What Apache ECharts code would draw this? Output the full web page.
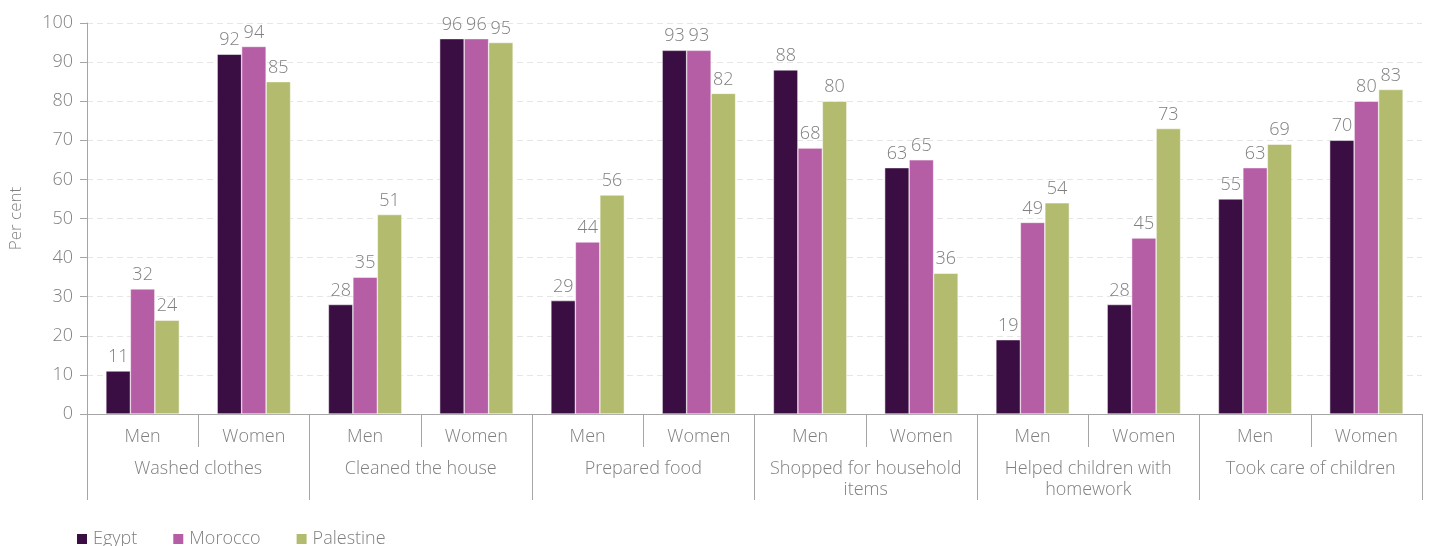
<!DOCTYPE html>
<html>
<head>
<meta charset="utf-8">
<script src="https://cdn.jsdelivr.net/npm/echarts@6/dist/echarts.min.js"></script>
<style>html,body{margin:0;padding:0;background:#fff}#c{width:1429px;height:546px}</style>
</head>
<body>
<div id="c"></div>
<script>
const groups = ['Washed clothes', 'Cleaned the house', 'Prepared food', 'Shopped for household\nitems', 'Helped children with\nhomework', 'Took care of children'];
const categories = ['Men','Women','Men','Women','Men','Women','Men','Women','Men','Women','Men','Women'];
const egypt     = [11, 92, 28, 96, 29, 93, 88, 63, 19, 28, 55, 70];
const morocco   = [32, 94, 35, 96, 44, 93, 68, 65, 49, 45, 63, 80];
const palestine = [24, 85, 51, 95, 56, 82, 80, 36, 54, 73, 69, 83];
const seriesNames = ['Egypt', 'Morocco', 'Palestine'];
const colors = ['#3a0e42', '#b65ea5', '#b3bb6e'];
const yTicks = {min: 0, max: 100, interval: 10};

const FONT = '"Open Sans"';
const FW = 300;
const FS = 18;
const GRAY = '#7f7f7f';
const chart = echarts.init(document.getElementById('c'));
const mk = (name, data, color) => ({
  name, type: 'bar', data, barGap: '0%', barCategoryGap: '34%',
  itemStyle: {color, borderColor: '#fff', borderWidth: 0.5},
  label: {show: true, position: 'top', distance: 5, color: GRAY, fontSize: FS, fontWeight: FW, fontFamily: FONT}
});
chart.setOption({
  animation: false,
  textStyle: {fontFamily: FONT, fontWeight: FW},
  grid: {left: 85, right: 7, top: 23, bottom: 132, containLabel: false},
  legend: {
    data: seriesNames, left: 70, top: 525, icon: 'rect', itemWidth: 12, itemHeight: 12,
    itemGap: 34, textStyle: {color: GRAY, fontSize: FS, fontWeight: FW, fontFamily: FONT}
  },
  xAxis: [
    {
      type: 'category', data: categories, position: 'bottom',
      axisLine: {lineStyle: {color: '#a6a6a6'}},
      axisTick: {show: true, interval: 0, length: 33, lineStyle: {color: '#a6a6a6'}},
      axisLabel: {interval: 0, margin: 14, color: GRAY, fontSize: FS, fontWeight: FW, fontFamily: FONT}
    },
    {
      type: 'category', data: groups, position: 'bottom',
      axisLine: {show: false},
      axisTick: {show: true, interval: 0, length: 86, lineStyle: {color: '#a6a6a6'}},
      axisLabel: {interval: 0, margin: 44, color: GRAY, fontSize: FS, lineHeight: 21, fontWeight: FW, fontFamily: FONT}
    }
  ],
  yAxis: {
    type: 'value', min: yTicks.min, max: yTicks.max, interval: yTicks.interval,
    name: 'Per cent', nameLocation: 'middle', nameGap: 62,
    nameTextStyle: {color: GRAY, fontSize: 17, fontWeight: FW, fontFamily: FONT},
    axisLine: {show: true, lineStyle: {color: '#a6a6a6'}},
    axisTick: {show: true, length: 7, lineStyle: {color: '#a6a6a6'}},
    axisLabel: {color: GRAY, fontSize: FS, margin: 14, fontWeight: FW, fontFamily: FONT},
    splitLine: {show: true, lineStyle: {color: '#e6e6e6', type: [6, 4]}}
  },
  series: [mk(seriesNames[0], egypt, colors[0]), mk(seriesNames[1], morocco, colors[1]), mk(seriesNames[2], palestine, colors[2])]
});
</script>
</body>
</html>
